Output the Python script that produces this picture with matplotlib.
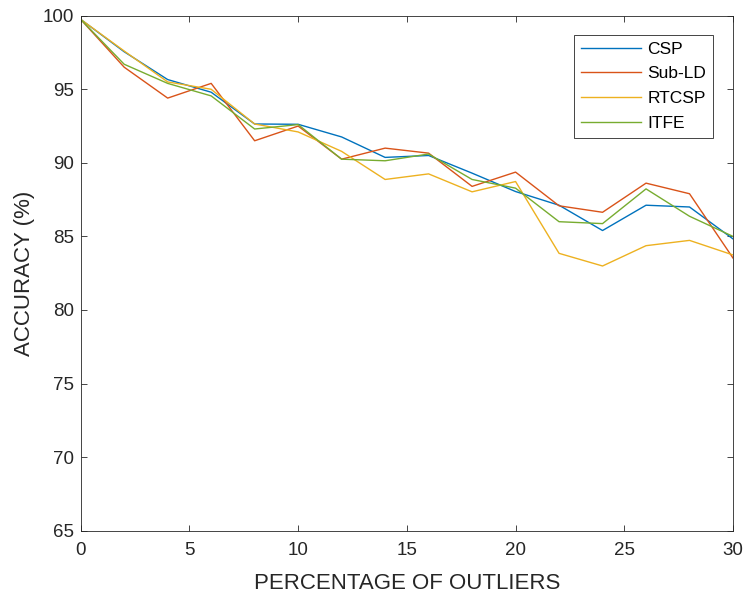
import matplotlib
matplotlib.use('Agg')
import matplotlib.pyplot as plt

plt.rcParams['font.family'] = ['Liberation Sans', 'DejaVu Sans']

outliers = [0, 2, 4, 6, 8, 10, 12, 14, 16, 18, 20, 22, 24, 26, 28, 30]
csp = [99.75, 97.55, 95.66, 94.8, 92.64, 92.62, 91.76, 90.37, 90.5, 89.3,
       88.05, 87.12, 85.4, 87.12, 87.0, 84.83]
sub_ld = [99.75, 96.5, 94.4, 95.4, 91.5, 92.5, 90.25, 91.0, 90.66, 88.4,
          89.37, 87.08, 86.64, 88.62, 87.9, 83.53]
rtcsp = [99.75, 97.6, 95.5, 95.0, 92.64, 92.1, 90.78, 88.87, 89.25, 88.03,
         88.73, 83.85, 82.99, 84.37, 84.73, 83.74]
itfe = [99.75, 96.7, 95.4, 94.55, 92.3, 92.6, 90.25, 90.14, 90.6, 88.87,
        88.28, 86.0, 85.87, 88.23, 86.37, 85.0]

series = [csp, sub_ld, rtcsp, itfe]
names = ['CSP', 'Sub-LD', 'RTCSP', 'ITFE']
colors = ['#0072BD', '#D95319', '#EDB120', '#77AC30']

fig = plt.figure(figsize=(7.52, 6.01), dpi=100)
ax = fig.add_axes([80.7 / 752, 1 - 530.7 / 601, (733 - 80.7) / 752, (530.7 - 15.7) / 601])

for vals, name, c in zip(series, names, colors):
    ax.plot(outliers, vals, color=c, lw=1.0, label=name)

ax.set_xlim(0, 30)
ax.set_ylim(65, 100)
ax.set_xticks(range(0, 31, 5))
ax.set_yticks(range(65, 101, 5))
ax.tick_params(direction='in', top=True, right=True, labelsize=13.5,
               colors='#262626', length=4, width=0.6)
ax.tick_params(axis='x', pad=8)
ax.tick_params(axis='y', pad=5)
for s in ax.spines.values():
    s.set_color('#262626')
    s.set_linewidth(0.6)
ax.set_xlabel('PERCENTAGE OF OUTLIERS', fontsize=16, color='#262626', labelpad=10)
ax.set_ylabel('ACCURACY (%)', fontsize=16, color='#262626', labelpad=5)

leg = ax.legend(loc='upper right', bbox_to_anchor=((713.3 - 80.7) / 652.3, (530.7 - 34.7) / 515),
                fancybox=False, edgecolor='#262626', fontsize=12.5, handlelength=3.5,
                borderpad=0.4, labelspacing=0.55, handletextpad=0.35, framealpha=1,
                borderaxespad=0)
leg.get_frame().set_linewidth(0.6)

fig.savefig('out.png', dpi=100)
